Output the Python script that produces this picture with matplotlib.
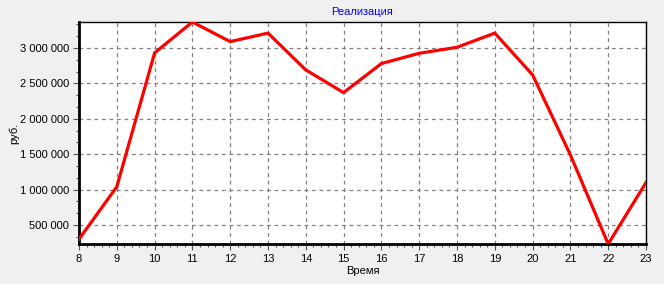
import matplotlib.pyplot as plt
from matplotlib.ticker import FuncFormatter, AutoMinorLocator, MultipleLocator

hours = list(range(8, 24))
revenue = [300000, 1040000, 2930000, 3367000, 3090000, 3210000, 2690000, 2370000,
           2780000, 2925000, 3010000, 3210000, 2620000, 1490000, 232000, 1100000]

plt.rcParams['font.family'] = ['Liberation Sans', 'DejaVu Sans']
plt.rcParams['font.size'] = 8

fig = plt.figure(figsize=(6.64, 2.84), dpi=100, facecolor='#f0f0f0')
ax = fig.add_axes([79/664, 40/284, (646-79)/664, (244-22)/284])
ax.set_facecolor('white')

ax.plot(hours, revenue, color='#ff0000', linewidth=2.3, solid_joinstyle='miter', zorder=3)

ax.set_xlim(hours[0], hours[-1])
ax.set_ylim(min(revenue), max(revenue))
ax.xaxis.set_major_locator(MultipleLocator(1))
ax.xaxis.set_minor_locator(AutoMinorLocator(5))
ax.yaxis.set_major_locator(MultipleLocator(500000))
ax.yaxis.set_minor_locator(AutoMinorLocator(3))
ax.yaxis.set_major_formatter(FuncFormatter(lambda v, p: f"{int(v):,}".replace(',', ' ')))

ax.grid(True, which='major', color='#808080', linestyle=(0, (3, 3)), linewidth=0.9)
ax.tick_params(which='major', length=4, width=0.8, color='#555555', pad=3, labelsize=8)
ax.tick_params(which='minor', length=2, width=0.8, color='#555555')

ax.spines['left'].set_linewidth(2)
ax.spines['bottom'].set_linewidth(2)
ax.spines['top'].set_linewidth(1)
ax.spines['right'].set_linewidth(1)
ax.spines['right'].set_linestyle((0, (2, 1)))

ax.set_title('Реализация', color='#0000ff', fontsize=8, pad=5)
ax.set_xlabel('Время', labelpad=2)
ax.set_ylabel('руб.', color='#000000')
ax.yaxis.set_label_coords(-0.105, 0.5)

fig.savefig('out.png', dpi=100, facecolor=fig.get_facecolor())
